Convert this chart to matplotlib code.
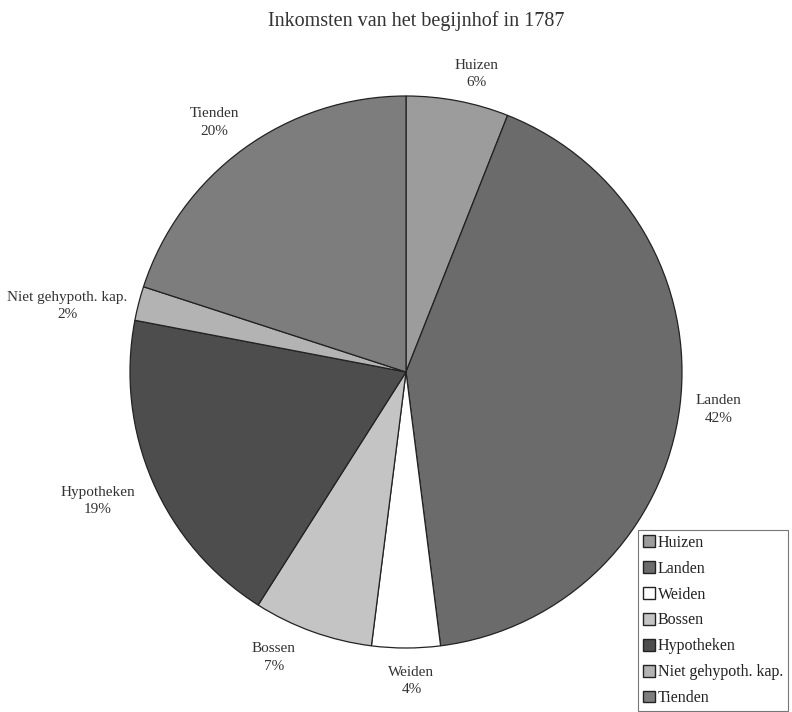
import numpy as np
import matplotlib.pyplot as plt
from matplotlib.patches import Patch

plt.rcParams['font.family'] = ['Liberation Serif', 'DejaVu Serif']

# Gegevens
categorieen = ['Huizen', 'Landen', 'Weiden', 'Bossen', 'Hypotheken',
               'Niet gehypoth. kap.', 'Tienden']
aandelen = [6, 42, 4, 7, 19, 2, 20]

kleuren = ['#9c9c9c', '#6b6b6b', '#ffffff', '#c4c4c4', '#4d4d4d', '#b3b3b3', '#7d7d7d']
label_afstand = [1.11, 1.14, 1.12, 1.14, 1.21, 1.25, 1.14]
hoek_correctie = [-2.6, 0.4, 1.0, -5.0, -0.7, 3.4, 1.5]

fig = plt.figure(figsize=(7.92, 7.12), dpi=100)
ax = fig.add_axes([130 / 792, (712 - 372 - 276) / 712, 552 / 792, 552 / 712])

wedges, _ = ax.pie(aandelen, colors=kleuren, startangle=90, counterclock=False,
                   radius=1.0, wedgeprops=dict(edgecolor='#222222', linewidth=0.9))

for w, naam, pct, d, dh in zip(wedges, categorieen, aandelen, label_afstand, hoek_correctie):
    hoek = np.deg2rad((w.theta1 + w.theta2) / 2 + dh)
    ax.text(d * np.cos(hoek), d * np.sin(hoek), f'{naam}\n{pct}%',
            ha='center', va='center', fontsize=11, color='#333333',
            linespacing=1.45)

ax.set_xlim(-1, 1)
ax.set_ylim(-1, 1)
ax.set_aspect('equal')
ax.axis('off')

fig.text(416 / 792, 1 - 21 / 712, 'Inkomsten van het begijnhof in 1787',
         ha='center', va='center', fontsize=14.5, color='#333333')

handles = [Patch(facecolor=c, edgecolor='#222222', linewidth=1.0) for c in kleuren]
leg = fig.legend(handles, categorieen, loc='upper left',
                 bbox_to_anchor=(638 / 792, 1 - 530 / 712), fontsize=11.5,
                 frameon=True, fancybox=False, handlelength=0.75, handleheight=0.75,
                 handletextpad=0.2, labelspacing=0.62, borderpad=0.3,
                 borderaxespad=0)
leg.get_frame().set_edgecolor('#555555')
leg.get_frame().set_linewidth(0.8)
for t in leg.get_texts():
    t.set_color('#222222')

plt.savefig('out.png', dpi=100)
